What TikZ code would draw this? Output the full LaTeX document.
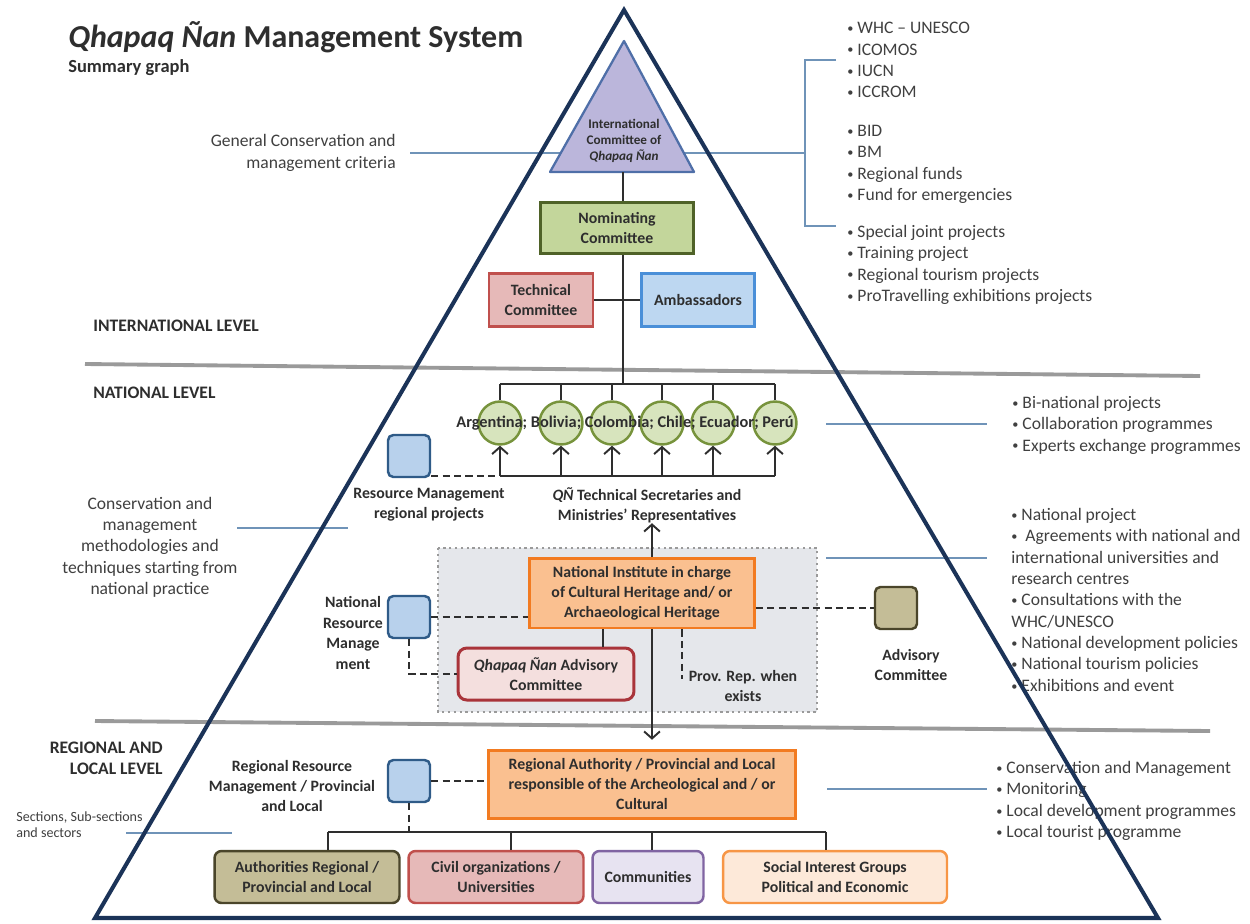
\documentclass[tikz,border=0pt]{standalone}
\usepackage{fontspec}
\setmainfont{Carlito}
\usetikzlibrary{arrows.meta,calc}

\definecolor{navy}{HTML}{1B3358}
\definecolor{ink}{HTML}{2E2E2E}
\definecolor{soft}{HTML}{404040}
\definecolor{note}{HTML}{6F93B8}
\definecolor{lvl}{HTML}{9A9A9A}
\definecolor{lilac}{HTML}{BBB6DB}
\definecolor{lilacline}{HTML}{4F6FA8}
\definecolor{leaf}{HTML}{C3D69B}
\definecolor{leafline}{HTML}{4F6228}
\definecolor{rose}{HTML}{E6B9B8}
\definecolor{roseline}{HTML}{C0504D}
\definecolor{sky}{HTML}{BDD7F1}
\definecolor{skyline}{HTML}{4A8FD8}
\definecolor{pea}{HTML}{D7E4BD}
\definecolor{pealine}{HTML}{77933C}
\definecolor{res}{HTML}{B8D1EC}
\definecolor{resline}{HTML}{2F5B88}
\definecolor{zone}{HTML}{E5E7EB}
\definecolor{peach}{HTML}{FAC090}
\definecolor{peachline}{HTML}{F27B21}
\definecolor{blush}{HTML}{F4DFDE}
\definecolor{blushline}{HTML}{A9343A}
\definecolor{khaki}{HTML}{C4BD97}
\definecolor{khakiline}{HTML}{4A452A}
\definecolor{lav}{HTML}{E7E3F1}
\definecolor{lavline}{HTML}{8064A2}
\definecolor{cream}{HTML}{FDE9D9}
\definecolor{creamline}{HTML}{F79646}

% small list bullet
\newcommand{\bul}{\raisebox{0.15ex}{\fontsize{7}{7}\selectfont\textbullet}\ }

\tikzset{
  box/.style={draw, line width=1.4pt, align=center, text=ink, inner sep=0pt,
    font=\bfseries\fontsize{9}{11.4}\selectfont},
  resbox/.style={draw=resline, fill=res, line width=1.4pt, rounded corners=3pt,
    minimum size=0.84cm, inner sep=0pt},
  lbl/.style={align=center, text=ink, inner sep=0pt,
    font=\bfseries\fontsize{9}{11.6}\selectfont},
  cmt/.style={text=soft, inner sep=0pt, font=\fontsize{10}{12.15}\selectfont},
  lst/.style={cmt, align=left, anchor=north west},
  link/.style={draw=ink, line width=1.1pt},
  dsh/.style={link, dash pattern=on 4pt off 2.5pt},
  noteline/.style={draw=note, line width=0.8pt},
  nation/.style={circle, draw=pealine, fill=pea, line width=1.4pt,
    minimum size=0.86cm, inner sep=0pt},
  up/.style={link, -{Straight Barb[length=4pt,width=9pt,line width=1.1pt]}},
}

\begin{document}
\begin{tikzpicture}[x=0.02cm,y=-0.02cm]
\useasboundingbox (0,0) rectangle (1250,923);

% title
\node[anchor=west, text=ink, inner sep=0pt, font=\bfseries\fontsize{18.2}{20}\selectfont]
  (title) at (68,37) {\textit{Qhapaq Ñan} Management System};
\node[anchor=west, text=ink, inner sep=0pt, font=\bfseries\fontsize{10.5}{12}\selectfont]
  (sub) at (68,68) {Summary graph};

% level separators
\draw[lvl, line width=2.2pt] (85,364) -- (1200,376);
\draw[lvl, line width=2.2pt] (95,721) -- (1210,731);

\node[lbl, anchor=west, font=\bfseries\fontsize{10}{12}\selectfont] (intl) at (93,326) {INTERNATIONAL LEVEL};
\node[lbl, anchor=west, font=\bfseries\fontsize{10}{12}\selectfont] (natl) at (93,393) {NATIONAL LEVEL};
\node[lbl, align=right, anchor=east, font=\bfseries\fontsize{10}{12}\selectfont] (regl) at (163,758) {REGIONAL AND\\LOCAL LEVEL};

% comments on the left
\node[cmt, align=right, anchor=east] (gcm) at (396,153) {General Conservation and\\management criteria};
\node[cmt, align=center] (cmm) at (150,547) {Conservation and\\management\\methodologies and\\techniques starting from\\national practice};
\node[cmt, align=left, anchor=west, font=\fontsize{8}{9.2}\selectfont] (ssec) at (16,825) {Sections, Sub-sections\\and sectors};

% comment lines
\coordinate (gcmR) at (410,153);
\coordinate (brk) at (805,153);
\coordinate (brkT) at (805,60);
\coordinate (brkB) at (805,226);
\draw[noteline] (gcmR) -- (brk);
\draw[noteline] ([xshift=0.62cm]brkT) -- (brkT) -- (brkB) -- ([xshift=0.62cm]brkB);
\draw[noteline] (237,528) -- (348,528);
\draw[noteline] (126,833) -- (232,833);
\draw[noteline] (826,424) -- (987,424);
\draw[noteline] (826,558) -- (987,558);
\draw[noteline] (827,789) -- (987,789);

% lists on the right
\node[lst] (l1) at (847,22) {\bul WHC – UNESCO\\\bul ICOMOS\\\bul IUCN\\\bul ICCROM};
\node[lst] (l2) at (847,125) {\bul BID\\\bul BM\\\bul Regional funds\\\bul Fund for emergencies};
\node[lst] (l3) at (847,225) {\bul Special joint projects\\\bul Training project\\\bul Regional tourism projects\\\bul ProTravelling exhibitions projects};
\node[lst] (l4) at (1012,396) {\bul Bi-national projects\\\bul Collaboration programmes\\\bul Experts exchange programmes};
\node[lst] (l5) at (1011,508) {\bul National project\\\bul\ Agreements with national and\\international universities and\\research centres\\\bul Consultations with the\\WHC/UNESCO\\\bul National development policies\\\bul National tourism policies\\\bul Exhibitions and event};
\node[lst] (l6) at (996,761) {\bul Conservation and Management\\\bul Monitoring\\\bul Local development programmes\\\bul Local tourist programme};

% international level
\draw[draw=lilacline, fill=lilac, line width=1.3pt, line join=round] (624,41) -- (694,172) -- (550,172) -- cycle;
\node[lbl, font=\bfseries\fontsize{7.5}{9.3}\selectfont] (icom) at (624,141) {International\\Committee of\\\textit{Qhapaq Ñan}};
\coordinate (icomB) at (623,172);
\coordinate (b1w) at (500,384);
\coordinate (b1e) at (775,384);
\coordinate (b2w) at (500,476);
\coordinate (b2e) at (775,476);
\draw[link] (icomB) -- (icomB |- b1w);
\draw[link] (b1w) -- (b1e);
\draw[link] (b2w) -- (b2e);

\node[box, fill=leaf, draw=leafline, minimum width=3.06cm, minimum height=1.02cm] (nom) at (617,228) {Nominating\\Committee};
\node[box, fill=rose, draw=roseline, minimum width=2.08cm, minimum height=1.06cm] (tech) at (541,300) {Technical\\Committee};
\node[box, fill=sky, draw=skyline, minimum width=2.26cm, minimum height=1.06cm] (amb) at (698,300) {Ambassadors};
\draw[link] (tech.east) -- (amb.west);

% national level
\foreach \x [count=\i] in {500,561,612,662,713,775} {
  \node[nation] (c\i) at (\x,423) {};
  \draw[link] (c\i.north) -- (c\i.north |- b1w);
  \draw[up] (c\i.south |- b2w) -- (c\i.south);
}
\node[lbl, font=\bfseries\fontsize{9.3}{11.6}\selectfont] (ctry) at (625,423) {Argentina; Bolivia; Colombia; Chile; Ecuador; Perú};

\node[resbox] (rmr) at (409,456) {};
\draw[dsh] (b2w -| rmr.east) -- (b2w);
\node[lbl] (rmrl) at (429,505) {Resource Management\\regional projects};
\node[lbl] (qnts) at (647,505) {\textit{QÑ} Technical Secretaries and\\Ministries’ Representatives};

\draw[draw=lvl, fill=zone, line width=1.3pt, dotted] (438,548) rectangle (817,712);

\node[box, fill=peach, draw=peachline, line width=1.7pt, minimum width=4.5cm, minimum height=1.4cm] (nat) at (642,593) {National Institute in charge\\of Cultural Heritage and/ or\\Archaeological Heritage};
\draw[up] ([xshift=0.2cm]nat.north) -- ([xshift=0.2cm]nat.north |- qnts.south);

\node[resbox] (nrm) at (409,617) {};
\node[lbl] (nrml) at (353,633) {National\\Resource\\Manage\\ment};
\node[box, rounded corners=5pt, fill=blush, draw=blushline, line width=1.7pt, minimum width=3.52cm, minimum height=1.04cm] (qnadv) at (546,674) {\textit{Qhapaq Ñan} Advisory\\Committee};
\draw[dsh] (nrm.east) -- (nrm.east -| nat.west);
\draw[dsh] (nrm.south) |- (qnadv.west);
\draw[link] ([xshift=-0.78cm]nat.south) -- ([xshift=-0.78cm]nat.south |- qnadv.north);
\draw[dsh] ([xshift=0.8cm]nat.south) -- ++(0,50);
\node[lbl] (prov) at (743,686) {Prov. Rep. when\\exists};

\node[resbox, fill=khaki, draw=khakiline] (adv) at (896,608) {};
\draw[dsh] (adv.west -| nat.east) -- (adv.west);
\node[lbl] (advl) at (911,665) {Advisory\\Committee};

% regional and local level
\node[box, fill=peach, draw=peachline, line width=1.7pt, minimum width=6.14cm, minimum height=1.36cm] (reg) at (642,784) {Regional Authority / Provincial and Local\\responsible of the Archeological and / or\\Cultural};
\draw[up, shorten >=5pt] ([xshift=0.2cm]nat.south) -- ([xshift=0.2cm]nat.south |- reg.north);

\node[resbox] (rrm) at (409,781) {};
\node[lbl] (rrml) at (292,786) {Regional Resource\\Management / Provincial\\and Local};
\draw[dsh] (rrm.east) -- (rrm.east -| reg.west);

\coordinate (b3w) at (328,832);
\coordinate (b3e) at (826,832);
\coordinate (d2) at (511,832);
\coordinate (d3) at (652,832);
\draw[link] (b3w) -- (b3e);
\draw[dsh] (rrm.south) -- (rrm.south |- b3w);

\node[box, rounded corners=4pt, fill=khaki, draw=khakiline, minimum width=3.7cm, minimum height=1.04cm] (auth) at (307,877) {Authorities Regional /\\Provincial and Local};
\node[box, rounded corners=4pt, fill=rose, draw=roseline, minimum width=3.5cm, minimum height=1.04cm] (civ) at (496,877) {Civil organizations /\\Universities};
\node[box, rounded corners=4pt, fill=lav, draw=lavline, minimum width=2.22cm, minimum height=1.04cm] (comm) at (648,877) {Communities};
\node[box, rounded corners=4pt, fill=cream, draw=creamline, minimum width=4.48cm, minimum height=1.04cm] (soc) at (835,877) {Social Interest Groups\\Political and Economic};
\draw[link] (b3w) -- (b3w |- auth.north);
\draw[link] (d2) -- (d2 |- civ.north);
\draw[link] (d3) -- (d3 |- comm.north);
\draw[link] (b3e) -- (b3e |- soc.north);

% pyramid
\draw[navy, line width=2.3pt, line join=miter] (624,10) -- (1158,918) -- (95,918) -- cycle;
\end{tikzpicture}
\end{document}
